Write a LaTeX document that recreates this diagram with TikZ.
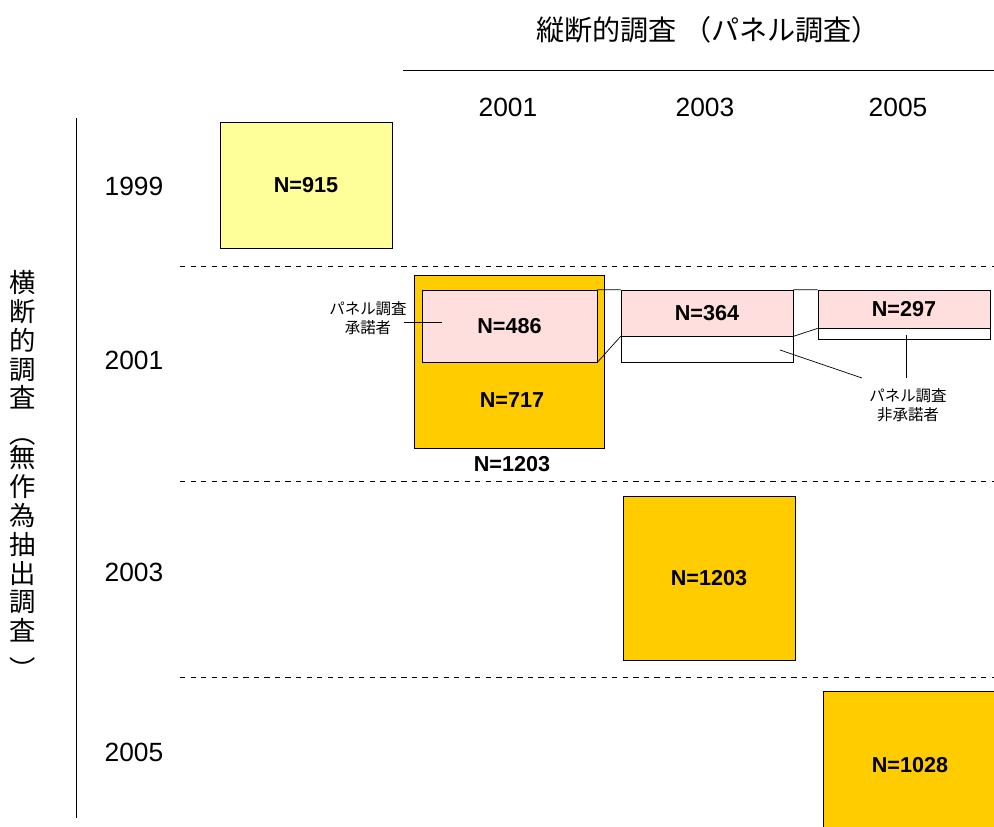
\documentclass[tikz,border=0pt]{standalone}
\usepackage{fontspec}
\setmainfont{Liberation Sans}
\newfontfamily\jpfont{Noto Sans CJK JP}
\usepackage{tikz}
\usetikzlibrary{positioning}
\definecolor{PaleYellow}{HTML}{FFFF99}
\definecolor{Gold}{HTML}{FFCC00}
\definecolor{PanelPink}{HTML}{FFDEDE}
\tikzset{
  year/.style={font=\fontsize{15}{18}\selectfont, inner sep=0pt},
  sidetext/.style={font=\jpfont\fontsize{15}{16.4}\selectfont, align=center, inner sep=0pt},
  cell/.style={draw, thin, inner sep=0pt, minimum width=3.44cm},
  oldcell/.style={cell, fill=PaleYellow},
  goldcell/.style={cell, fill=Gold},
  panel/.style={cell, fill=PanelPink},
  nonpanel/.style={cell, fill=white},
  count/.style={font=\bfseries\fontsize{12.3}{14}\selectfont, inner sep=0pt},
  note/.style={font=\jpfont\fontsize{8.8}{10.5}\selectfont, align=center, inner sep=1pt},
  leader/.style={thin},
  sep/.style={dashed, thin}
}
\begin{document}
\begin{tikzpicture}[x=0.02cm,y=-0.02cm]
\useasboundingbox (0,0) rectangle (994,826);
% headings
\node[font=\jpfont\fontsize{16}{18}\selectfont] (title) at (708,30) {縦断的調査 （パネル調査）};
\draw (403,70) -- (994,70);
\node[year] (c2001) at (508,107) {2001};
\node[year] (c2003) at (705,107) {2003};
\node[year] (c2005) at (898,107) {2005};
\draw (76,118) -- (76,818);
\node[sidetext] (sideA) at (23,340) {横\\断\\的\\調\\査};
\node[sidetext] (sideB) at (23,544) {無\\作\\為\\抽\\出\\調\\査};
\node[sidetext] (openp) at (23,442) {︵};
\node[sidetext] (closep) at (23,668) {︶};
\node[year] (r1999) at (134,186) {1999};
\node[year] (r2001) at (134,360) {2001};
\node[year] (r2003) at (134,572) {2003};
\node[year] (r2005) at (134,752) {2005};
\draw[sep] (180,266) -- (994,266);
\draw[sep] (180,481) -- (994,481);
\draw[sep] (180,677) -- (994,677);
% 1999
\node[oldcell, minimum height=2.52cm] (b1999) at (306,185) {};
\node[count] at (b1999) {N=915};
% 2001
\node[goldcell, minimum width=3.8cm, minimum height=3.46cm] (b2001) at (509,361.5) {};
\node[panel, minimum width=3.5cm, minimum height=1.44cm] (p486) at (509.5,326) {};
\node[count] (n486) at (p486) {N=486};
\node[count] (n717) at (512,400) {N=717};
\node[count] (n1203) at (512,464) {N=1203};
\node[panel, minimum height=0.92cm] (p364) at (707,313) {};
\node[count] (n364) at (p364) {N=364};
\node[nonpanel, minimum height=0.52cm] (w364) at (707,349) {};
\node[panel, minimum height=0.76cm] (p297) at (904,309) {};
\node[count] (n297) at (p297) {N=297};
\node[nonpanel, minimum height=0.22cm] (w297) at (904,333.5) {};
\draw[leader] (p486.north east) -- (p364.north west);
\draw[leader] (p486.south east) -- (p364.south west);
\draw[leader] (p364.north east) -- (p297.north west);
\draw[leader] (p364.south east) -- (p297.south west);
\node[note] (accept) at (368,318) {パネル調査\\承諾者};
\coordinate (inaccept) at (442,322);
\draw[leader] (404,322) -- (inaccept);
\node[note] (decline) at (908,405) {パネル調査\\非承諾者};
\coordinate (in364) at (780,350);
\coordinate (in297) at (906,335);
\draw[leader] (in364) -- (862,378);
\draw[leader] (in297) -- (906,378);
% 2003, 2005
\node[goldcell, minimum height=3.28cm] (b2003) at (709,578) {};
\node[count] (n2003) at (b2003) {N=1203};
\node[goldcell, minimum width=3.42cm, minimum height=3.16cm] (b2005) at (908.5,770) {};
\node[count] (n2005) at (910,765) {N=1028};
\end{tikzpicture}
\end{document}
